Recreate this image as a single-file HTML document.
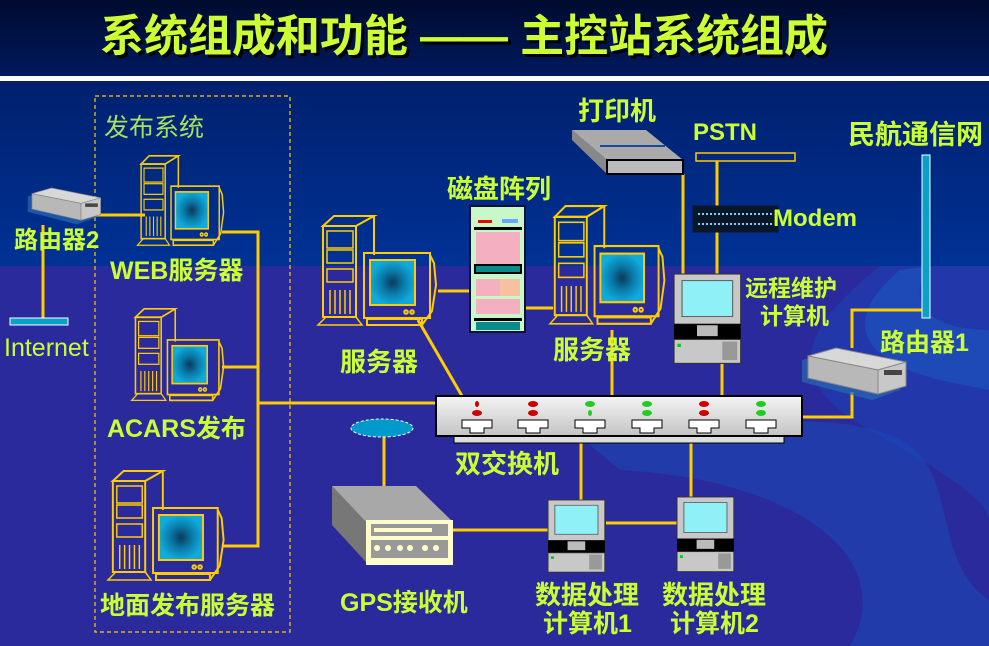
<!DOCTYPE html>
<html><head><meta charset="utf-8"><style>
html,body{margin:0;padding:0;width:989px;height:646px;overflow:hidden;background:#2a2a9c}
svg{display:block}
.t{font-family:"Liberation Sans","Noto Sans CJK SC",sans-serif;font-weight:bold;fill:#ccff33}
.n{font-family:"Liberation Sans","Noto Sans CJK SC",sans-serif;fill:#ccff33}
</style></head><body>
<svg width="989" height="646" viewBox="0 0 989 646" xmlns="http://www.w3.org/2000/svg">
<defs>
<linearGradient id="hd" x1="0" y1="0" x2="0" y2="1"><stop offset="0" stop-color="#000a2e"/><stop offset="1" stop-color="#001a5e"/></linearGradient>
<linearGradient id="up" x1="0" y1="0" x2="0" y2="1"><stop offset="0" stop-color="#00206e"/><stop offset="1" stop-color="#003296"/></linearGradient>
<radialGradient id="scr"><stop offset="0" stop-color="#0a3a5a"/><stop offset="0.5" stop-color="#0a7aa8"/><stop offset="1" stop-color="#10aadd"/></radialGradient>
<linearGradient id="sw" x1="0" y1="0" x2="0" y2="1"><stop offset="0" stop-color="#f4f4f4"/><stop offset="1" stop-color="#c4c4c4"/></linearGradient>
<g id="srv" fill="none" stroke="#ffcc00" stroke-width="2">
<path d="M7 11 L18 1 L58 1 L40 11 Z"/>
<rect x="7" y="11" width="33" height="91"/>
<path d="M58 1 L58 40"/>
<rect x="11" y="16" width="26" height="17" stroke-width="1.5"/>
<rect x="11" y="35" width="26" height="13" stroke-width="1.5"/>
<rect x="11" y="54" width="26" height="13" stroke-width="1.5"/>
<path d="M14 75 V99 M19 75 V99 M24 75 V99 M29 75 V99 M34 75 V99" stroke-width="1.5"/>
<path d="M2 110 L10 102 L40 102 L46 110 Z" stroke-width="1.5"/>
<rect x="48" y="38" width="66" height="65"/>
<path d="M114 40 L118 48 L120 70 L116 96 L106 110"/>
<rect x="54" y="45" width="45" height="45" fill="url(#scr)"/>
<rect x="51" y="104" width="55" height="6"/>
<circle cx="90" cy="97" r="1.8"/><circle cx="96" cy="97" r="1.8"/>
</g>
<g id="pc">
<rect x="0" y="0" width="58" height="46" fill="#c8c8c8" stroke="#333" stroke-width="1"/>
<rect x="7" y="6" width="44" height="33" fill="#8ff0f8" stroke="#666"/>
<rect x="0" y="46" width="58" height="14" fill="#000"/>
<rect x="20" y="47" width="18" height="10" fill="#bbb"/>
<rect x="0" y="60" width="58" height="22" fill="#c8c8c8" stroke="#333"/>
<rect x="42" y="62" width="13" height="17" fill="#999"/>
<rect x="3" y="64" width="3" height="3" fill="#0c0"/>
</g>
<g id="rtr">
<path d="M0 8 L28 0 L98 14 L98 38 L70 48 L0 30 Z" fill="#2a6ab0" opacity="0.7" transform="translate(-6,4)"/>
<path d="M0 8 L28 0 L98 14 L70 22 Z" fill="#d8d8d8" stroke="#888"/>
<path d="M0 8 L70 22 L70 46 L0 30 Z" fill="#b8b8b8" stroke="#888"/>
<path d="M70 22 L98 14 L98 38 L70 46 Z" fill="#c8c8c8" stroke="#888"/>
<rect x="76" y="22" width="18" height="5" fill="#444"/>
</g>
</defs>
<rect width="989" height="76" fill="url(#hd)"/>
<rect y="76" width="989" height="5" fill="#fff"/>
<rect y="81" width="989" height="186" fill="url(#up)"/>
<rect y="266" width="989" height="380" fill="#2a2a9c"/>
<path d="M880 266 C800 330 780 380 870 430 C940 470 989 500 989 520 L989 266 Z" fill="#1f3fb0" opacity="0.7"/>
<path d="M560 420 C700 440 820 400 900 440 C960 470 930 560 989 600 L989 646 L850 646 C900 560 800 480 620 470 Z" fill="#1a48b8" opacity="0.55"/>
<path d="M900 270 C840 320 860 360 940 380 L989 390 L989 330 C940 330 900 310 930 266 Z" fill="#1c56c0" opacity="0.6"/>
<g font-family="'Liberation Sans','Noto Sans CJK SC',sans-serif" font-weight="bold" font-size="44">
<text x="103" y="54" fill="#000" textLength="728" lengthAdjust="spacingAndGlyphs">系统组成和功能 —— 主控站系统组成</text>
<text x="100" y="51" fill="#ccff33" textLength="728" lengthAdjust="spacingAndGlyphs">系统组成和功能 —— 主控站系统组成</text>
</g>
<rect x="95" y="96" width="195" height="536" fill="none" stroke="#ffcc00" stroke-width="1.2" stroke-dasharray="4,3"/>
<text x="104" y="136" font-size="25" class="n" style="fill:#a8e060">发布系统</text>
<g stroke="#ffcc00" stroke-width="3" fill="none">
<path d="M96 215 H145"/>
<path d="M43 225 V318"/>
<path d="M222 232 H258 V546 H222"/>
<path d="M222 367 H258"/>
<path d="M258 403 H437"/>
<path d="M418 320 L462 396"/>
<path d="M438 291 H470"/>
<path d="M525 308 H553"/>
<path d="M612 330 V396"/>
<path d="M683 174 V274"/>
<path d="M717 161 V274"/>
<path d="M722 363 V396"/>
<path d="M852 348 V310 H922"/>
<path d="M802 417 H852 V392"/>
<path d="M384 437 V503"/>
<path d="M453 530 H548"/>
<path d="M606 523 H677"/>
<path d="M581 442 V500"/>
<path d="M691 442 V497"/>
</g>
<use href="#rtr" transform="translate(32,188) scale(0.7)"/>
<use href="#rtr" transform="translate(808,348)"/>
<rect x="10" y="318" width="58" height="7" fill="#0aa0c8" stroke="#fff" stroke-width="1"/>
<text x="4" y="356" font-size="25" class="n">Internet</text>
<text x="14" y="248" font-size="24" class="t">路由器2</text>
<use href="#srv" transform="translate(136,155) scale(0.73,0.82)"/>
<use href="#srv" transform="translate(130,308) scale(0.78,0.84)"/>
<use href="#srv" transform="translate(106,470) scale(0.98,1.0)"/>
<use href="#srv" transform="translate(316,215)"/>
<use href="#srv" transform="translate(548,205) scale(0.97,1.08)"/>
<text x="110" y="279" font-size="25" class="t">WEB服务器</text>
<text x="107" y="437" font-size="25" class="t">ACARS发布</text>
<text x="100" y="614" font-size="25" class="t">地面发布服务器</text>
<text x="340" y="371" font-size="26" class="t">服务器</text>
<text x="553" y="359" font-size="26" class="t">服务器</text>
<rect x="470" y="206" width="55" height="126" fill="#c8f8c8" stroke="#113" stroke-width="2"/>
<rect x="478" y="220" width="14" height="3" fill="#e00"/><rect x="502" y="219" width="16" height="4" fill="#6af"/>
<rect x="474" y="227" width="48" height="3" fill="#000"/>
<rect x="476" y="232" width="44" height="32" fill="#f4b0c0"/>
<rect x="474" y="264" width="48" height="10" fill="#000"/>
<rect x="476" y="266" width="44" height="6" fill="#0a8a8a"/>
<rect x="476" y="279" width="44" height="17" fill="#f4b0c0"/>
<rect x="500" y="279" width="20" height="17" fill="#f8c0a0"/>
<rect x="476" y="299" width="44" height="15" fill="#f4b0c0"/>
<rect x="474" y="318" width="48" height="3" fill="#000"/>
<rect x="476" y="322" width="44" height="8" fill="#0a8a8a"/>
<text x="447" y="198" font-size="26" class="t">磁盘阵列</text>
<path d="M572 130 L646 130 L683 160 L607 160 Z" fill="#aaa"/>
<path d="M572 130 L572 140 L607 174 L607 160 Z" fill="#888"/>
<rect x="607" y="160" width="76" height="14" fill="#bbb" stroke="#000" stroke-width="2"/>
<path d="M600 146 L665 146" stroke="#1a4aa0" stroke-width="2"/>
<text x="578" y="120" font-size="26" class="t">打印机</text>
<text x="693" y="140" font-size="24" class="t">PSTN</text>
<rect x="696" y="153" width="99" height="8" fill="none" stroke="#ffcc00" stroke-width="1.5"/>
<rect x="693" y="206" width="85" height="26" fill="#081828" stroke="#113"/>
<path d="M698 214 H773 M698 224 H773" stroke="#8cf" stroke-width="2" stroke-dasharray="2,2"/>
<text x="773" y="226" font-size="24" class="t">Modem</text>
<use href="#pc" transform="translate(674,274) scale(1.15,1.09)"/>
<text x="745" y="296" font-size="23" class="t">远程维护</text>
<text x="760" y="324" font-size="23" class="t">计算机</text>
<text x="848" y="144" font-size="27" class="t">民航通信网</text>
<rect x="922" y="155" width="8" height="163" fill="#0aa0c8" stroke="#fff" stroke-width="1"/>
<text x="880" y="351" font-size="25" class="t">路由器1</text>
<rect x="454" y="436" width="330" height="7" fill="#ddd" stroke="#000"/>
<rect x="436" y="396" width="366" height="40" fill="url(#sw)" stroke="#000" stroke-width="2"/>
<g fill="#fff" stroke="#000" stroke-width="1">
<path d="M462 420 H492 V428 H484 V433 H470 V428 H462 Z"/>
<path d="M518 420 H548 V428 H540 V433 H526 V428 H518 Z"/>
<path d="M575 420 H605 V428 H597 V433 H583 V428 H575 Z"/>
<path d="M632 420 H662 V428 H654 V433 H640 V428 H632 Z"/>
<path d="M689 420 H719 V428 H711 V433 H697 V428 H689 Z"/>
<path d="M746 420 H776 V428 H768 V433 H754 V428 H746 Z"/>
</g>
<g>
<ellipse cx="477" cy="404" rx="2" ry="3" fill="#c00"/><ellipse cx="477" cy="413" rx="5" ry="3" fill="#c00"/>
<ellipse cx="533" cy="404" rx="5" ry="3" fill="#c00"/><ellipse cx="533" cy="413" rx="5" ry="3" fill="#c00"/>
<ellipse cx="590" cy="404" rx="5" ry="3" fill="#2c2"/><ellipse cx="590" cy="413" rx="2" ry="3" fill="#2c2"/>
<ellipse cx="647" cy="404" rx="5" ry="3" fill="#2c2"/><ellipse cx="647" cy="413" rx="5" ry="3" fill="#2c2"/>
<ellipse cx="704" cy="404" rx="5" ry="3" fill="#c00"/><ellipse cx="704" cy="413" rx="5" ry="3" fill="#c00"/>
<ellipse cx="761" cy="404" rx="5" ry="3" fill="#2c2"/><ellipse cx="761" cy="413" rx="5" ry="3" fill="#2c2"/>
</g>
<text x="455" y="473" font-size="26" class="t">双交换机</text>
<ellipse cx="382" cy="428" rx="31" ry="9" fill="#0099cc" stroke="#fff" stroke-width="1" stroke-dasharray="3,2"/>
<path d="M332 486 L416 486 L453 522 L366 522 Z" fill="#a8a8a8"/>
<path d="M332 486 L366 522 L366 562 L332 525 Z" fill="#777"/>
<rect x="366" y="520" width="87" height="45" fill="#fffccc"/>
<rect x="371" y="524" width="77" height="12" fill="#999"/>
<rect x="374" y="528" width="58" height="4" fill="#fffccc"/>
<rect x="371" y="540" width="77" height="18" fill="#999"/>
<g fill="#fffccc"><circle cx="377" cy="548" r="3"/><circle cx="388" cy="548" r="3"/><circle cx="400" cy="548" r="3"/><circle cx="410" cy="548" r="3"/><circle cx="425" cy="548" r="3"/><circle cx="436" cy="548" r="3"/></g>
<text x="340" y="611" font-size="25" class="t">GPS接收机</text>
<use href="#pc" transform="translate(548,500) scale(0.98,0.88)"/>
<use href="#pc" transform="translate(677,497) scale(0.98,0.91)"/>
<text x="535" y="604" font-size="26" class="t">数据处理</text>
<text x="543" y="632" font-size="25" class="t">计算机1</text>
<text x="662" y="604" font-size="26" class="t">数据处理</text>
<text x="670" y="632" font-size="25" class="t">计算机2</text>
</svg>
</body></html>
